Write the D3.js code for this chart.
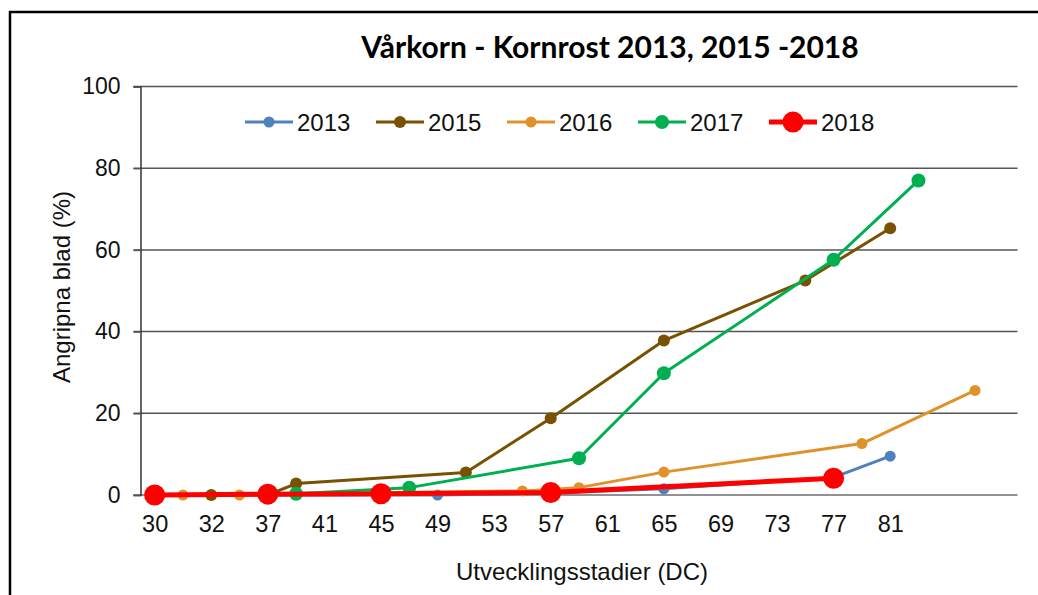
<!DOCTYPE html>
<html>
<head>
<meta charset="utf-8">
<script src="https://cdn.jsdelivr.net/npm/d3@7"></script>
<style>
  body { margin: 0; background: #fff; }
  svg { display: block; }
</style>
</head>
<body>
<div id="chart"></div>
<script>

// development stages (category axis), only every second one gets a label
var stages = [30, 31, 32, 34, 37, 39, 41, 43, 45, 47, 49, 51, 53, 55, 57, 59,
  61, 63, 65, 67, 69, 71, 73, 75, 77, 79, 81, 83, 85, 87, 89];
var tickLabels = [30, 32, 37, 41, 45, 49, 53, 57, 61, 65, 69, 73, 77, 81];
var yTicks = [0, 20, 40, 60, 80, 100];

// [stage, % infected leaves]
var s2013 = [[37, 0], [45, 0], [49, 0], [57, 0.5], [65, 1.5], [77, 4.3], [81, 9.5]];
var s2015 = [[32, 0], [37, 0], [39, 2.8], [51, 5.5], [57, 18.8], [65, 37.8], [75, 52.5], [81, 65.3]];
var s2016 = [[31, 0], [34, 0], [55, 1.0], [59, 1.8], [65, 5.6], [79, 12.6], [87, 25.6]];
var s2017 = [[39, 0.3], [47, 1.8], [59, 9.0], [65, 29.8], [77, 57.6], [83, 77.0]];
var s2018 = [[30, 0], [37, 0.2], [45, 0.3], [57, 0.6], [77, 4.1]];

var years = ["2013", "2015", "2016", "2017", "2018"];
var seriesData = [s2013, s2015, s2016, s2017, s2018];

var styles = {
  "2013": {color: "#4f81bd", width: 3, r: 5.5},
  "2015": {color: "#7a5100", width: 3, r: 6},
  "2016": {color: "#e0922a", width: 3, r: 5.5},
  "2017": {color: "#00b050", width: 3, r: 7},
  "2018": {color: "#ff0000", width: 5, r: 10.5}
};

var width = 1038, height = 595;
var margin = {top: 86.5, right: 20, bottom: 100, left: 140.5};
var plotRight = 1017.5, plotBottom = 495;

var svg = d3.select("#chart").append("svg")
  .attr("width", width)
  .attr("height", height);

// outer frame
svg.append("rect")
  .attr("x", 10).attr("y", 12)
  .attr("width", 1060).attr("height", 620)
  .attr("fill", "none")
  .attr("stroke", "#000")
  .attr("stroke-width", 2.5);

var xScale = d3.scalePoint()
  .domain(stages)
  .range([margin.left, plotRight])
  .padding(0.5);

var yScale = d3.scaleLinear()
  .domain([0, 100])
  .range([plotBottom, margin.top]);

var font = "'Liberation Sans', Arial, sans-serif";

// gridlines
svg.append("g").attr("class", "grid")
  .selectAll("line")
  .data(yTicks)
  .enter().append("line")
    .attr("x1", margin.left - 7)
    .attr("x2", plotRight)
    .attr("y1", function(d) { return yScale(d); })
    .attr("y2", function(d) { return yScale(d); })
    .attr("stroke", function(d) { return d === 0 ? "#6e6e6e" : "#555"; })
    .attr("stroke-width", 1.5);

// y axis
var yAxisG = svg.append("g")
  .attr("class", "y axis")
  .attr("transform", "translate(" + margin.left + ",0)")
  .call(d3.axisLeft(yScale).tickValues(yTicks).tickSize(7).tickPadding(13));
yAxisG.select(".domain").attr("stroke", "#333").attr("stroke-width", 1.5);
yAxisG.selectAll(".tick line").attr("stroke", "#555").attr("stroke-width", 1.5);
yAxisG.selectAll("text")
  .attr("font-family", font)
  .attr("font-size", "23px")
  .attr("fill", "#111");

// x axis (labels only)
var xAxisG = svg.append("g")
  .attr("class", "x axis")
  .attr("transform", "translate(0," + plotBottom + ")")
  .call(d3.axisBottom(xScale).tickValues(tickLabels).tickSize(0).tickPadding(20));
xAxisG.select(".domain").remove();
xAxisG.selectAll("text")
  .attr("font-family", font)
  .attr("font-size", "23.5px")
  .attr("fill", "#111");

// lines and markers
var line = d3.line()
  .x(function(d) { return xScale(d[0]); })
  .y(function(d) { return yScale(d[1]); });

years.forEach(function(year, i) {
  var st = styles[year];
  var g = svg.append("g").attr("class", "series s" + year);
  g.append("path")
    .datum(seriesData[i])
    .attr("d", line)
    .attr("fill", "none")
    .attr("stroke", st.color)
    .attr("stroke-width", st.width)
    .attr("stroke-linejoin", "round");
  g.selectAll("circle")
    .data(seriesData[i])
    .enter().append("circle")
      .attr("cx", function(d) { return xScale(d[0]); })
      .attr("cy", function(d) { return yScale(d[1]); })
      .attr("r", st.r)
      .attr("fill", st.color);
});

// legend
var legend = svg.append("g").attr("class", "legend")
  .attr("transform", "translate(245,122)");
var item = legend.selectAll(".item")
  .data(years)
  .enter().append("g")
    .attr("class", "item")
    .attr("transform", function(d, i) { return "translate(" + (i * 131) + ",0)"; });
item.append("line")
  .attr("x1", 0).attr("x2", 48)
  .attr("stroke", function(d) { return styles[d].color; })
  .attr("stroke-width", function(d) { return styles[d].width; });
item.append("circle")
  .attr("cx", 24)
  .attr("r", function(d) { return styles[d].r; })
  .attr("fill", function(d) { return styles[d].color; });
item.append("text")
  .attr("x", 52)
  .attr("dy", "0.36em")
  .attr("font-family", font)
  .attr("font-size", "24px")
  .attr("fill", "#111")
  .text(function(d) { return d; });

// title
svg.append("text")
  .attr("x", 610).attr("y", 58)
  .attr("text-anchor", "middle")
  .attr("font-family", "Lato, 'Open Sans', sans-serif")
  .attr("font-weight", "bold")
  .attr("font-size", "30px")
  .attr("fill", "#000")
  .text("Vårkorn - Kornrost 2013, 2015 -2018");

// axis titles
svg.append("text")
  .attr("x", 582).attr("y", 580)
  .attr("text-anchor", "middle")
  .attr("font-family", font)
  .attr("font-size", "24px")
  .attr("fill", "#111")
  .text("Utvecklingsstadier (DC)");

svg.append("text")
  .attr("transform", "translate(70,287) rotate(-90)")
  .attr("text-anchor", "middle")
  .attr("font-family", font)
  .attr("font-size", "24px")
  .attr("fill", "#111")
  .text("Angripna blad (%)");

</script>
</body>
</html>
